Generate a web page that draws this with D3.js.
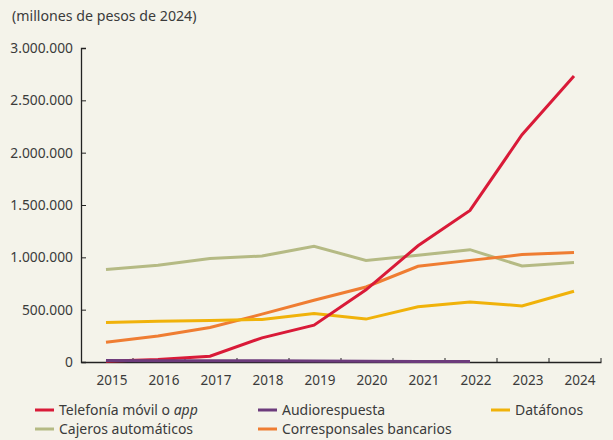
<!DOCTYPE html>
<html><head><meta charset="utf-8">
<script src="https://cdn.jsdelivr.net/npm/d3@7/dist/d3.min.js"></script>
<style>
html,body{margin:0;padding:0;background:#f4f3ea;}
svg{display:block;font-family:"Noto Sans",sans-serif;}
</style></head>
<body>
<svg id="c" width="613" height="440"></svg>
<script>
const years = ["2015","2016","2017","2018","2019","2020","2021","2022","2023","2024"];
const telefonia = [8000, 25000, 55000, 231000, 352000, 690000, 1110000, 1448000, 2171000, 2733000];
const audiorespuesta = [14000, 13000, 12000, 11000, 9000, 7000, 5000, 4000, null, null];
const datafonos = [378000, 390000, 397000, 407000, 464000, 410000, 527000, 574000, 536000, 676000];
const cajeros = [883000, 924000, 988000, 1012000, 1105000, 971000, 1019000, 1073000, 917000, 950000];
const corresponsales = [188000, 248000, 330000, 457000, 590000, 717000, 914000, 971000, 1026000, 1045000];
const yTicks = [0, 500000, 1000000, 1500000, 2000000, 2500000, 3000000];
const title = "(millones de pesos de 2024)";

const series = [
  {name:"Telefonía móvil o ", italic:"app", values:telefonia, color:"#d91a38"},
  {name:"Audiorespuesta", values:audiorespuesta, color:"#6c3b7c"},
  {name:"Datáfonos", values:datafonos, color:"#f0b20a"},
  {name:"Cajeros automáticos", values:cajeros, color:"#b5ba84"},
  {name:"Corresponsales bancarios", values:corresponsales, color:"#ef7d32"}
];

const svg = d3.select("#c");
const textColor = "#3b3b3b";

const x = d3.scaleBand().domain(years).range([81, 601]);
const y = d3.scaleLinear().domain([0, 3000000]).range([362, 48]);
const fmt = v => d3.format(",")(v).replace(/,/g, ".");

svg.append("text").attr("x", 12).attr("y", 21).attr("fill", textColor)
  .attr("font-size", 14.2).text(title);

// y axis
const ya = svg.append("g").attr("transform", "translate(81,0)")
  .call(d3.axisLeft(y).tickValues(yTicks).tickFormat(fmt).tickSize(-5).tickPadding(8));
ya.select(".domain").attr("stroke", "#222").attr("stroke-width", 1.3);
ya.selectAll(".tick line").attr("stroke", "#222");
ya.selectAll(".tick text").attr("fill", textColor).attr("font-size", 13.8)
  .attr("font-family", "Noto Sans");

// x axis with ticks at band boundaries
const xa = svg.append("g").attr("transform", "translate(0,362)")
  .call(d3.axisBottom(x).tickSize(0).tickPadding(13));
xa.select(".domain").attr("stroke", "#222").attr("stroke-width", 1.3);
xa.selectAll(".tick text").attr("fill", textColor).attr("font-size", 13.5)
  .attr("font-family", "Noto Sans").attr("dx", 5);
xa.selectAll(".bnd").data(years.slice(1).concat(["end"])).enter().append("line")
  .attr("x1", (d,i) => x(years[0]) + x.step()*(i+1))
  .attr("x2", (d,i) => x(years[0]) + x.step()*(i+1))
  .attr("y1", 0).attr("y2", -4).attr("stroke", "#222");

const cx = d => x(d) + x.bandwidth()/2 - 1;
const line = d3.line().defined(d => d.v !== null)
  .x(d => cx(d.year)).y(d => y(d.v));

const drawOrder = [3, 4, 2, 0, 1];
drawOrder.forEach(i => {
  const s = series[i];
  svg.append("path")
    .datum(years.map((yr, k) => ({year: yr, v: s.values[k]})))
    .attr("d", line).attr("fill", "none")
    .attr("stroke", s.color).attr("stroke-width", 3)
    .attr("stroke-linejoin", "miter");
});

// legend
const legendPos = [[35, 410], [258, 410], [491, 410], [35, 429], [258, 429]];
series.forEach((s, i) => {
  const [lx, ly] = legendPos[i];
  const g = svg.append("g").attr("transform", `translate(${lx},${ly})`);
  g.append("line").attr("x1", 0).attr("x2", 19).attr("y1", 0).attr("y2", 0)
    .attr("stroke", s.color).attr("stroke-width", 3);
  const t = g.append("text").attr("x", 24).attr("y", 5).attr("fill", textColor)
    .attr("font-size", 14);
  t.append("tspan").text(s.name);
  if (s.italic) t.append("tspan").attr("font-style", "italic").text(s.italic);
});
</script>
</body></html>
